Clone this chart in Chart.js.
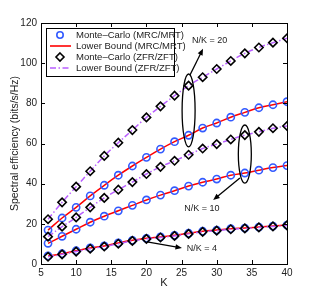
<!DOCTYPE html>
<html>
<head>
<meta charset="utf-8">
<script src="https://cdn.jsdelivr.net/npm/chart.js@4/dist/chart.umd.min.js"></script>
<style>
  html, body { margin: 0; padding: 0; background: #fff; }
  #wrap { width: 317px; height: 298px; }
</style>
</head>
<body>
<div id="wrap"><canvas id="c" width="317" height="298"></canvas></div>
<script>
// number of users K
const K = [6, 8, 10, 12, 14, 16, 18, 20, 22, 24, 26, 28, 30, 32, 34, 36, 38, 40];

// MRC/MRT (N/K = 20, 10, 4)
const mrc20 = [16.9, 22.9, 28.2, 33.9, 39.2, 44.2, 48.8, 53.1, 57.2, 60.9, 64.1, 67.7, 70.2, 73.1, 75.5, 77.8, 79.3, 80.8];
const mrc10 = [10.3, 13.8, 17.3, 20.8, 23.8, 26.5, 29.2, 31.9, 34.3, 36.5, 38.8, 40.7, 42.3, 44.2, 45.3, 46.7, 48.0, 49.0];
const mrc4  = [4.0, 5.1, 6.6, 8.0, 9.0, 10.5, 11.8, 12.8, 13.5, 14.3, 15.3, 16.3, 16.9, 17.6, 17.9, 18.4, 18.9, 19.4];

// ZFR/ZFT
const zfr20 = [22.3, 30.7, 38.5, 46.2, 53.8, 60.4, 66.7, 73.0, 78.5, 83.8, 88.8, 93.0, 97.1, 101.1, 104.9, 107.8, 110.2, 112.4];
const zfr10 = [13.6, 18.6, 23.2, 28.2, 32.9, 37.0, 40.8, 44.8, 48.4, 51.4, 54.4, 57.5, 59.7, 62.0, 64.2, 65.8, 67.6, 68.7];
const zfr4  = [3.6, 4.8, 6.2, 7.6, 8.7, 10.1, 11.5, 12.5, 13.2, 14.0, 15.0, 16.0, 16.6, 17.3, 17.7, 18.2, 18.7, 19.2];

const xTicks = [5, 10, 15, 20, 25, 30, 35, 40];
const yTicks = [0, 20, 40, 60, 80, 100, 120];

const legendLabels = ['Monte\u2013Carlo (MRC/MRT)', 'Lower Bound (MRC/MRT)', 'Monte\u2013Carlo (ZFR/ZFT)', 'Lower Bound (ZFR/ZFT)'];

const BLUE = 'rgb(50,90,255)';
const RED = 'rgb(255,0,0)';
const VIOLET = 'rgb(185,95,255)';
const FONT = '"Liberation Sans", Arial, Helvetica, sans-serif';
const DASHDOT = [6, 2.5, 1.5, 2.5];

const pts = arr => arr.map((v, i) => ({ x: K[i], y: v }));

function boundLine(arr, color, dash, order) {
  return { data: pts(arr), borderColor: color, borderWidth: 1.5, borderDash: dash,
           pointRadius: 0, tension: 0.4, fill: false, order: order };
}
function markers(arr, color, style, r, order) {
  return { data: pts(arr), showLine: false, pointStyle: style, pointRadius: r,
           pointBorderColor: color, pointBackgroundColor: 'rgba(0,0,0,0)',
           pointBorderWidth: 1.6, order: order };
}

const datasets = [
  markers(zfr20, '#000', 'rectRot', 4.2, 1),
  markers(zfr10, '#000', 'rectRot', 4.2, 1),
  markers(zfr4,  '#000', 'rectRot', 4.2, 1),
  boundLine(zfr20, VIOLET, DASHDOT, 2),
  boundLine(zfr10, VIOLET, DASHDOT, 2),
  boundLine(zfr4,  VIOLET, DASHDOT, 2),
  markers(mrc20, BLUE, 'circle', 3.6, 3),
  markers(mrc10, BLUE, 'circle', 3.6, 3),
  markers(mrc4,  BLUE, 'circle', 3.6, 3),
  boundLine(mrc20, RED, [], 4),
  boundLine(mrc10, RED, [], 4),
  boundLine(mrc4,  RED, [], 4)
];

// annotations in data units
const ellipses = [
  { k: 26, lo: 58.3, hi: 94.6 },
  { k: 34, lo: 40.3, hi: 69.2 }
];
const arrows = [
  { from: [26.2, 94.1], to: [28.05, 107.2] },
  { from: [33.3, 42.8], to: [29.5, 31.9] },
  { from: [20.1, 11.0], to: [25.05, 8.0] }
];
const notes = [
  { text: 'N/K = 20', k: 29.0, v: 111.5 },
  { text: 'N/K = 10', k: 27.9, v: 27.4 },
  { text: 'N/K = 4', k: 27.9, v: 7.5 }
];

const frame = {
  id: 'frame',
  afterDatasetsDraw(chart) {
    const ctx = chart.ctx;
    const xs = chart.scales.x, ys = chart.scales.y;
    const a = chart.chartArea;
    ctx.save();
    ctx.strokeStyle = '#000';
    ctx.lineWidth = 1;
    // box
    ctx.strokeRect(a.left + 0.5, a.top + 0.5, a.right - a.left, a.bottom - a.top);
    // inward ticks on every side
    ctx.beginPath();
    xTicks.forEach(t => {
      const px = Math.round(xs.getPixelForValue(t)) + 0.5;
      ctx.moveTo(px, a.bottom); ctx.lineTo(px, a.bottom - 4);
      ctx.moveTo(px, a.top); ctx.lineTo(px, a.top + 4);
    });
    yTicks.forEach(t => {
      const py = Math.round(ys.getPixelForValue(t)) + 0.5;
      ctx.moveTo(a.left, py); ctx.lineTo(a.left + 4, py);
      ctx.moveTo(a.right, py); ctx.lineTo(a.right - 4, py);
    });
    ctx.stroke();

    // ellipses
    ctx.lineWidth = 1.3;
    ellipses.forEach(e => {
      const cx = xs.getPixelForValue(e.k);
      const y1 = ys.getPixelForValue(e.hi), y2 = ys.getPixelForValue(e.lo);
      ctx.beginPath();
      ctx.ellipse(cx, (y1 + y2) / 2, 6.5, (y2 - y1) / 2, 0, 0, Math.PI * 2);
      ctx.stroke();
    });

    // arrows
    arrows.forEach(ar => {
      const x1 = xs.getPixelForValue(ar.from[0]), y1 = ys.getPixelForValue(ar.from[1]);
      const x2 = xs.getPixelForValue(ar.to[0]), y2 = ys.getPixelForValue(ar.to[1]);
      const ang = Math.atan2(y2 - y1, x2 - x1);
      ctx.beginPath();
      ctx.moveTo(x1, y1); ctx.lineTo(x2 - 5 * Math.cos(ang), y2 - 5 * Math.sin(ang));
      ctx.stroke();
      ctx.beginPath();
      ctx.moveTo(x2, y2);
      ctx.lineTo(x2 - 7 * Math.cos(ang - 0.4), y2 - 7 * Math.sin(ang - 0.4));
      ctx.lineTo(x2 - 7 * Math.cos(ang + 0.4), y2 - 7 * Math.sin(ang + 0.4));
      ctx.closePath();
      ctx.fillStyle = '#000';
      ctx.fill();
    });

    ctx.fillStyle = '#222';
    ctx.font = '9px ' + FONT;
    ctx.textAlign = 'center';
    ctx.textBaseline = 'middle';
    notes.forEach(n => ctx.fillText(n.text, xs.getPixelForValue(n.k), ys.getPixelForValue(n.v)));

    // legend box
    const lx = 46, ly = 28, lw = 128, lh = 48;
    ctx.fillStyle = '#fff';
    ctx.fillRect(lx, ly, lw, lh);
    ctx.strokeStyle = '#000';
    ctx.lineWidth = 1;
    ctx.strokeRect(lx + 0.5, ly + 0.5, lw, lh);
    const rows = [35, 46, 57, 68];
    ctx.textAlign = 'left';
    ctx.fillStyle = '#222';
    ctx.font = '9.5px ' + FONT;
    legendLabels.forEach((s, i) => ctx.fillText(s, 76, rows[i]));
    // markers
    ctx.lineWidth = 1.6;
    ctx.strokeStyle = BLUE;
    ctx.beginPath(); ctx.arc(60, rows[0], 3.2, 0, Math.PI * 2); ctx.stroke();
    ctx.strokeStyle = RED;
    ctx.beginPath(); ctx.moveTo(50, rows[1]); ctx.lineTo(71, rows[1]); ctx.stroke();
    ctx.strokeStyle = '#000';
    ctx.beginPath();
    ctx.moveTo(60, rows[2] - 4); ctx.lineTo(64, rows[2]); ctx.lineTo(60, rows[2] + 4); ctx.lineTo(56, rows[2]);
    ctx.closePath(); ctx.stroke();
    ctx.strokeStyle = VIOLET;
    ctx.setLineDash(DASHDOT);
    ctx.beginPath(); ctx.moveTo(50, rows[3]); ctx.lineTo(71, rows[3]); ctx.stroke();
    ctx.setLineDash([]);
    ctx.restore();
  }
};

new Chart(document.getElementById('c'), {
  type: 'line',
  data: { datasets: datasets },
  plugins: [frame],
  options: {
    responsive: false,
    animation: false,
    events: [],
    layout: { padding: { left: 0, top: 23, right: 30, bottom: 0 } },
    plugins: { legend: { display: false }, tooltip: { enabled: false } },
    scales: {
      x: {
        type: 'linear', min: 5, max: 40,
        afterBuildTicks: s => { s.ticks = xTicks.map(v => ({ value: v })); },
        afterFit: s => { s.height = 34; },
        grid: { display: true, drawOnChartArea: false, drawTicks: false },
        border: { display: false },
        ticks: { padding: 3, color: '#222', font: { family: FONT, size: 10 }, maxRotation: 0 },
        title: { display: true, text: 'K', color: '#222', font: { family: FONT, size: 11 }, padding: { top: 0, bottom: 8 } }
      },
      y: {
        type: 'linear', min: 0, max: 120,
        afterBuildTicks: s => { s.ticks = yTicks.map(v => ({ value: v })); },
        afterFit: s => { s.width = 41; },
        grid: { display: true, drawOnChartArea: false, drawTicks: false },
        border: { display: false },
        ticks: { padding: 4, color: '#222', font: { family: FONT, size: 10 } },
        title: { display: true, text: 'Spectral efficiency (bits/s/Hz)', color: '#222', font: { family: FONT, size: 10.5 }, padding: { top: 9, bottom: 0 } }
      }
    }
  }
});
</script>
</body>
</html>
